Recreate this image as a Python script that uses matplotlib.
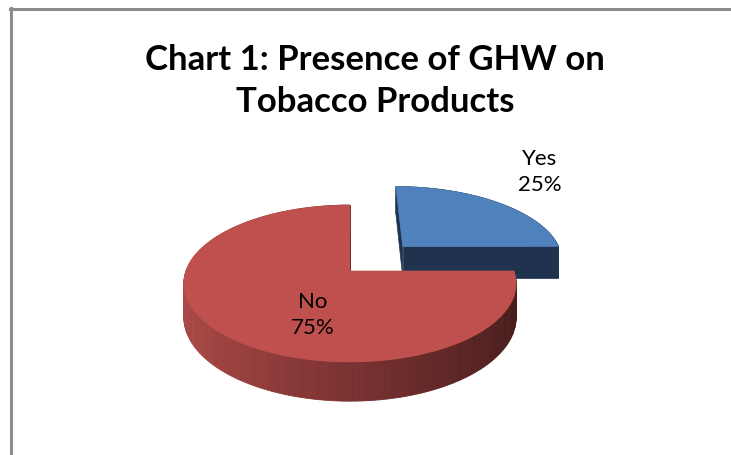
import numpy as np
import matplotlib
matplotlib.use("Agg")
import matplotlib.pyplot as plt
from matplotlib.patches import Polygon
from matplotlib.lines import Line2D

labels = ["Yes", "No"]
values = [25, 75]
top_colors = ["#4F81BD", "#C0504D"]
side_light = [(0.14, 0.22, 0.33), (0.68, 0.29, 0.28)]
side_dark = [(0.12, 0.20, 0.31), (0.28, 0.11, 0.11)]
explode = [0.48, 0.0]
title = "Chart 1: Presence of GHW on\nTobacco Products"

# projection of the pie (pixel space)
cx, cy = 350, 272
A, B, P, D = 480, 1030, 6.28, 33


def project(X, Z, h):
    s = 1.0 / (P - Z)
    return cx + B * X * s, cy + A * Z * s + D * P * s * h


def mix(c1, c2, f):
    return tuple(a + (b - a) * f for a, b in zip(c1, c2))


fig = plt.figure(figsize=(7.31, 4.56), dpi=100)
ax = fig.add_axes([0, 0, 1, 1])
ax.set_xlim(0, 731)
ax.set_ylim(456, 0)
ax.axis("off")

# frame
ax.add_line(Line2D([10, 731], [9.5, 9.5], color="#8c8c8c", lw=2.2))
ax.add_line(Line2D([11, 11], [9, 456], color="#8c8c8c", lw=2.2))

total = float(sum(values))
start = 0.0
slices = []
for i, v in enumerate(values):
    sweep = 360.0 * v / total
    slices.append((i, start, start + sweep))
    start += sweep

for i, a0, a1 in slices:
    mid = np.radians((a0 + a1) / 2)
    ox, oz = explode[i] * np.sin(mid), -explode[i] * np.cos(mid)
    th = np.radians(np.linspace(a0, a1, 200))
    X = ox + np.sin(th)
    Z = oz - np.cos(th)

    # cut faces along both radii
    for ang in (a0, a1):
        t = np.radians(ang)
        pts = [project(ox, oz, 0), project(ox + np.sin(t), oz - np.cos(t), 0),
               project(ox + np.sin(t), oz - np.cos(t), 1), project(ox, oz, 1)]
        ax.add_patch(Polygon(pts, closed=True, fc=side_dark[i], ec=side_dark[i], lw=0.5))

    # curved outer side, back to front
    order = np.argsort(Z[:-1])
    for k in order:
        f = (np.sin(th[k]) + 1) / 2
        col = mix(side_light[i], side_dark[i], f)
        pts = [project(X[k], Z[k], 0), project(X[k + 1], Z[k + 1], 0),
               project(X[k + 1], Z[k + 1], 1), project(X[k], Z[k], 1)]
        ax.add_patch(Polygon(pts, closed=True, fc=col, ec=col, lw=0.6))

    # top face
    top = [project(ox, oz, 0)] + [project(x, z, 0) for x, z in zip(X, Z)]
    ax.add_patch(Polygon(top, closed=True, fc=top_colors[i], ec=top_colors[i], lw=0.5))

font = "Lato"
ax.text(375, 81, title, ha="center", va="center", fontsize=25, fontweight="bold",
        family=font, linespacing=1.38)
ax.text(540, 172, "%s\n%d%%" % (labels[0], values[0]), ha="center", va="center",
        fontsize=16, family=font, linespacing=1.4)
ax.text(313, 315, "%s\n%d%%" % (labels[1], values[1]), ha="center", va="center",
        fontsize=16, family=font, linespacing=1.4)

fig.savefig("out.png", dpi=100, facecolor="white")
